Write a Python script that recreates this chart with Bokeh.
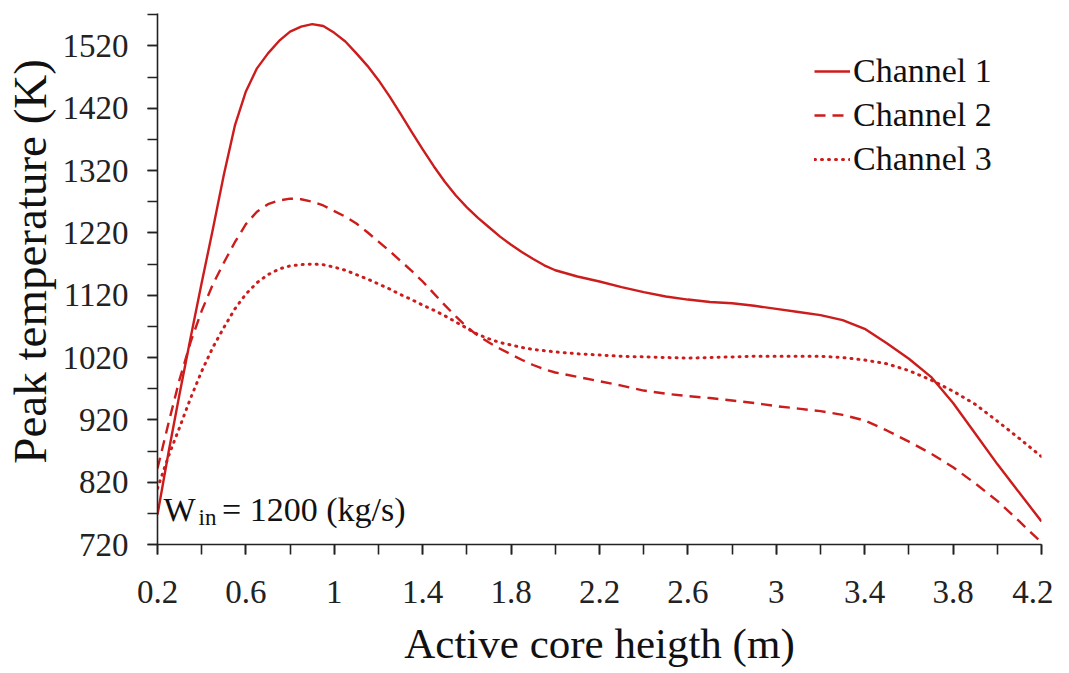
from bokeh.plotting import figure
from bokeh.models import Range1d, FixedTicker, Legend, LegendItem, Label
from bokeh.embed import file_html
from bokeh.resources import INLINE

# ---- data ----
x = [0.2, 0.25, 0.3, 0.35, 0.4, 0.45, 0.5, 0.55, 0.6, 0.65, 0.7, 0.75, 0.8, 0.85, 0.9, 0.95,
     1.0, 1.05, 1.1, 1.15, 1.2, 1.25, 1.3, 1.35, 1.4, 1.45, 1.5, 1.55, 1.6, 1.65, 1.7, 1.75,
     1.8, 1.85, 1.9, 1.95, 2.0, 2.1, 2.2, 2.3, 2.4, 2.5, 2.6, 2.7,
     2.8, 2.9, 3.0, 3.1, 3.2, 3.3, 3.4, 3.5, 3.6, 3.7, 3.8, 3.9, 4.0, 4.1, 4.2]

channel1 = [768, 868, 962, 1052, 1140, 1225, 1313, 1392, 1447, 1484, 1508, 1528, 1543, 1551, 1555, 1552,
            1541, 1527, 1508, 1488, 1465, 1439, 1411, 1382, 1354, 1327, 1302, 1280, 1261, 1244, 1229, 1214,
            1201, 1189, 1178, 1168, 1160, 1150, 1142, 1133, 1125, 1118, 1113, 1109,
            1107, 1103, 1098, 1093, 1088, 1080, 1066, 1043, 1018, 989, 947, 898, 849, 803, 757]

channel2 = [842, 915, 985, 1045, 1095, 1137, 1172, 1205, 1234, 1254, 1266, 1272, 1275, 1274, 1270, 1264,
            1255, 1246, 1235, 1221, 1206, 1191, 1175, 1159, 1142, 1123, 1104, 1086, 1069, 1055, 1044, 1034,
            1025, 1016, 1008, 1001, 996, 989, 982, 975, 967, 962, 958, 955,
            951, 947, 942, 938, 934, 928, 919, 903, 885, 866, 844, 818, 790, 757, 723]

channel3 = [810, 862, 908, 955, 998, 1036, 1068, 1098, 1122, 1140, 1153, 1162, 1167, 1169, 1170, 1169,
            1165, 1160, 1153, 1146, 1138, 1130, 1121, 1113, 1104, 1096, 1087, 1077, 1067, 1057, 1050, 1044,
            1040, 1036, 1033, 1031, 1029, 1026, 1024, 1022, 1021, 1020, 1019, 1020,
            1021, 1022, 1022, 1022, 1022, 1020, 1016, 1010, 999, 984, 966, 945, 918, 890, 861]

series_names = ["Channel 1", "Channel 2", "Channel 3"]

x_ticks = [0.2, 0.6, 1.0, 1.4, 1.8, 2.2, 2.6, 3.0, 3.4, 3.8, 4.2]
x_tick_labels = ["0.2", "0.6", "1", "1.4", "1.8", "2.2", "2.6", "3", "3.4", "3.8", "4.2"]
x_minor = [0.2, 0.4, 0.6, 0.8, 1.0, 1.2, 1.4, 1.6, 1.8, 2.0, 2.2, 2.4, 2.6, 2.8, 3.0, 3.2, 3.4, 3.6, 3.8, 4.0, 4.2]
y_ticks = [720, 820, 920, 1020, 1120, 1220, 1320, 1420, 1520]
y_minor = [720, 770, 820, 870, 920, 970, 1020, 1070, 1120, 1170, 1220, 1270, 1320, 1370, 1420, 1470, 1520, 1570]

x_title = "Active core heigth (m)"
y_title = "Peak temperature (K)"

FONT = "Liberation Serif"
RED = "#cc1c1c"

p = figure(frame_width=884, frame_height=531,
           x_range=Range1d(0.2, 4.2), y_range=Range1d(720, 1572),
           output_backend="svg", toolbar_location=None,
           min_border_left=157, min_border_right=12, min_border_top=13, min_border_bottom=10)

p.grid.visible = False
p.outline_line_color = None
p.background_fill_color = "white"
p.border_fill_color = "white"

r1 = p.line(x, channel1, line_color=RED, line_width=2.4, line_join="round")
r2 = p.line(x, channel2, line_color=RED, line_width=2.4, line_dash="11 7", line_join="round")
r3 = p.line(x, channel3, line_color=RED, line_width=3, line_dash="1 6", line_cap="round", line_join="round")

# axes
xa = p.xaxis[0]
xa.ticker = FixedTicker(ticks=x_ticks, minor_ticks=x_minor)
xa.major_label_overrides = {t: l for t, l in zip(x_ticks, x_tick_labels)}
ya = p.yaxis[0]
ya.ticker = FixedTicker(ticks=y_ticks, minor_ticks=y_minor)
ya.major_label_overrides = {t: str(t) for t in y_ticks}

for ax in (xa, ya):
    ax.axis_line_color = "#222222"
    ax.axis_line_width = 1.6
    ax.major_tick_line_color = "#222222"
    ax.minor_tick_line_color = "#222222"
    ax.major_tick_line_width = 1.6
    ax.minor_tick_line_width = 1.6
    ax.major_tick_in = 0
    ax.major_tick_out = 10
    ax.minor_tick_in = 0
    ax.minor_tick_out = 10
    ax.major_label_text_font = FONT
    ax.major_label_text_font_size = "33px"
    ax.major_label_text_color = "#222222"
    ax.axis_label_text_font = FONT
    ax.axis_label_text_font_style = "normal"
    ax.axis_label_text_color = "#111111"

xa.axis_label = x_title
xa.axis_label_text_font_size = "43px"
xa.major_label_standoff = 26
xa.axis_label_standoff = 14

# leading non-breaking spaces shift the centred title slightly upward, as in the reference
ya.axis_label = "\u00a0\u00a0\u00a0" + y_title
ya.axis_label_text_font_size = "47px"
ya.major_label_standoff = 19
ya.axis_label_standoff = 4

legend = Legend(items=[LegendItem(label=series_names[0], renderers=[r1]),
                       LegendItem(label=series_names[1], renderers=[r2]),
                       LegendItem(label=series_names[2], renderers=[r3])],
                location=(657, 365))
legend.label_text_font = FONT
legend.label_text_font_size = "34px"
legend.label_text_color = "#111111"
legend.glyph_width = 36
legend.glyph_height = 40
legend.label_height = 40
legend.label_standoff = 3
legend.spacing = 4
legend.padding = 0
legend.margin = 0
legend.border_line_color = None
legend.background_fill_alpha = 0
p.add_layout(legend)

# annotation W_in = 1200 (kg/s)
p.add_layout(Label(x=0.227, y=776, text="W", text_font=FONT, text_font_size="34px",
                   text_color="#111111", text_baseline="alphabetic"))
p.add_layout(Label(x=0.386, y=763, text="in", text_font=FONT, text_font_size="23px",
                   text_color="#111111", text_baseline="alphabetic"))
p.add_layout(Label(x=0.492, y=776, text="= 1200 (kg/s)", text_font=FONT, text_font_size="34px",
                   text_color="#111111", text_baseline="alphabetic"))

open("out.html", "w").write(file_html(p, INLINE))
